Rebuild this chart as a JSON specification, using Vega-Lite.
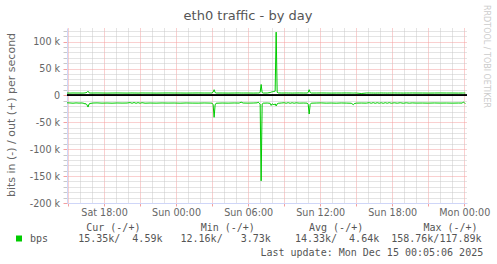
{
  "$schema": "https://vega.github.io/schema/vega-lite/v6.json",
  "width": 400,
  "height": 175,
  "autosize": {"type": "none"},
  "padding": {"left": 67, "top": 28, "right": 30, "bottom": 61},
  "background": "#ffffff",
  "title": {"text": "eth0 traffic - by day", "font": "DejaVu Sans", "fontSize": 13, "fontWeight": "normal", "color": "#555555", "anchor": "middle", "dx": -19, "offset": -28.3, "baseline": "alphabetic"},
  "data": {"values": [
    {"t": "2025-12-13T14:55", "in": -13600, "out": 4600},
    {"t": "2025-12-13T15:10", "in": -13900, "out": 4500},
    {"t": "2025-12-13T15:25", "in": -14300, "out": 4700},
    {"t": "2025-12-13T15:40", "in": -13800, "out": 4600},
    {"t": "2025-12-13T15:55", "in": -14100, "out": 4600},
    {"t": "2025-12-13T16:10", "in": -13900, "out": 4500},
    {"t": "2025-12-13T16:20", "in": -14600, "out": 4600},
    {"t": "2025-12-13T16:25", "in": -15800, "out": 4900},
    {"t": "2025-12-13T16:30", "in": -15200, "out": 5200},
    {"t": "2025-12-13T16:35", "in": -17500, "out": 6000},
    {"t": "2025-12-13T16:40", "in": -21500, "out": 8000},
    {"t": "2025-12-13T16:45", "in": -16000, "out": 5000},
    {"t": "2025-12-13T16:50", "in": -14800, "out": 4600},
    {"t": "2025-12-13T17:05", "in": -14000, "out": 4600},
    {"t": "2025-12-13T17:25", "in": -13800, "out": 4700},
    {"t": "2025-12-13T17:50", "in": -14200, "out": 4600},
    {"t": "2025-12-13T18:15", "in": -14000, "out": 4500},
    {"t": "2025-12-13T18:40", "in": -14300, "out": 4600},
    {"t": "2025-12-13T19:05", "in": -13900, "out": 4700},
    {"t": "2025-12-13T19:30", "in": -14100, "out": 4600},
    {"t": "2025-12-13T19:55", "in": -14000, "out": 4500},
    {"t": "2025-12-13T20:10", "in": -13200, "out": 4600},
    {"t": "2025-12-13T20:20", "in": -14400, "out": 4700},
    {"t": "2025-12-13T20:30", "in": -13100, "out": 4600},
    {"t": "2025-12-13T20:40", "in": -14500, "out": 4600},
    {"t": "2025-12-13T20:50", "in": -13300, "out": 4500},
    {"t": "2025-12-13T21:00", "in": -14400, "out": 4600},
    {"t": "2025-12-13T21:10", "in": -13400, "out": 4700},
    {"t": "2025-12-13T21:25", "in": -14300, "out": 4600},
    {"t": "2025-12-13T21:50", "in": -14000, "out": 4600},
    {"t": "2025-12-13T22:20", "in": -14200, "out": 4500},
    {"t": "2025-12-13T22:50", "in": -13900, "out": 4600},
    {"t": "2025-12-13T23:20", "in": -14100, "out": 4700},
    {"t": "2025-12-13T23:50", "in": -14000, "out": 4600},
    {"t": "2025-12-14T00:20", "in": -14300, "out": 4600},
    {"t": "2025-12-14T00:50", "in": -13900, "out": 4500},
    {"t": "2025-12-14T01:20", "in": -14100, "out": 4600},
    {"t": "2025-12-14T01:50", "in": -14200, "out": 4700},
    {"t": "2025-12-14T02:20", "in": -13900, "out": 4600},
    {"t": "2025-12-14T02:50", "in": -14100, "out": 4600},
    {"t": "2025-12-14T03:00", "in": -14300, "out": 4600},
    {"t": "2025-12-14T03:05", "in": -17000, "out": 6500},
    {"t": "2025-12-14T03:10", "in": -40500, "out": 10800},
    {"t": "2025-12-14T03:15", "in": -17500, "out": 5500},
    {"t": "2025-12-14T03:20", "in": -14400, "out": 4600},
    {"t": "2025-12-14T03:50", "in": -14000, "out": 4600},
    {"t": "2025-12-14T04:20", "in": -14200, "out": 4500},
    {"t": "2025-12-14T04:50", "in": -13900, "out": 4600},
    {"t": "2025-12-14T05:15", "in": -14100, "out": 4700},
    {"t": "2025-12-14T05:25", "in": -12400, "out": 4600},
    {"t": "2025-12-14T05:35", "in": -14000, "out": 4600},
    {"t": "2025-12-14T06:00", "in": -14200, "out": 4600},
    {"t": "2025-12-14T06:25", "in": -14000, "out": 4500},
    {"t": "2025-12-14T06:45", "in": -13700, "out": 4600},
    {"t": "2025-12-14T06:50", "in": -12300, "out": 4600},
    {"t": "2025-12-14T06:55", "in": -14200, "out": 4700},
    {"t": "2025-12-14T07:00", "in": -16000, "out": 6000},
    {"t": "2025-12-14T07:05", "in": -158760, "out": 20500},
    {"t": "2025-12-14T07:10", "in": -16000, "out": 5500},
    {"t": "2025-12-14T07:15", "in": -14300, "out": 4600},
    {"t": "2025-12-14T07:35", "in": -14000, "out": 4600},
    {"t": "2025-12-14T07:50", "in": -14500, "out": 5500},
    {"t": "2025-12-14T07:55", "in": -18500, "out": 6300},
    {"t": "2025-12-14T08:00", "in": -15500, "out": 6800},
    {"t": "2025-12-14T08:05", "in": -16500, "out": 7200},
    {"t": "2025-12-14T08:10", "in": -17200, "out": 7500},
    {"t": "2025-12-14T08:15", "in": -15500, "out": 8000},
    {"t": "2025-12-14T08:20", "in": -19500, "out": 117890},
    {"t": "2025-12-14T08:25", "in": -15500, "out": 6000},
    {"t": "2025-12-14T08:30", "in": -14500, "out": 4800},
    {"t": "2025-12-14T08:45", "in": -14000, "out": 4600},
    {"t": "2025-12-14T09:00", "in": -13500, "out": 4600},
    {"t": "2025-12-14T09:10", "in": -14400, "out": 4700},
    {"t": "2025-12-14T09:20", "in": -13400, "out": 4600},
    {"t": "2025-12-14T09:30", "in": -14500, "out": 4600},
    {"t": "2025-12-14T09:40", "in": -13500, "out": 4500},
    {"t": "2025-12-14T09:50", "in": -14400, "out": 4600},
    {"t": "2025-12-14T10:00", "in": -13600, "out": 4600},
    {"t": "2025-12-14T10:15", "in": -14200, "out": 4700},
    {"t": "2025-12-14T10:35", "in": -14000, "out": 4600},
    {"t": "2025-12-14T10:55", "in": -14200, "out": 4600},
    {"t": "2025-12-14T11:00", "in": -16500, "out": 5800},
    {"t": "2025-12-14T11:05", "in": -34500, "out": 10800},
    {"t": "2025-12-14T11:10", "in": -16500, "out": 5500},
    {"t": "2025-12-14T11:15", "in": -14300, "out": 4600},
    {"t": "2025-12-14T11:40", "in": -14000, "out": 4600},
    {"t": "2025-12-14T12:05", "in": -13800, "out": 4700},
    {"t": "2025-12-14T12:30", "in": -14200, "out": 4600},
    {"t": "2025-12-14T12:55", "in": -14000, "out": 4500},
    {"t": "2025-12-14T13:20", "in": -14300, "out": 4600},
    {"t": "2025-12-14T13:45", "in": -13900, "out": 4600},
    {"t": "2025-12-14T14:10", "in": -14100, "out": 4700},
    {"t": "2025-12-14T14:35", "in": -14400, "out": 4600},
    {"t": "2025-12-14T14:40", "in": -15500, "out": 4600},
    {"t": "2025-12-14T14:45", "in": -17200, "out": 4500},
    {"t": "2025-12-14T14:50", "in": -15200, "out": 4600},
    {"t": "2025-12-14T15:00", "in": -14200, "out": 4600},
    {"t": "2025-12-14T15:25", "in": -14000, "out": 3730},
    {"t": "2025-12-14T15:50", "in": -14200, "out": 4600},
    {"t": "2025-12-14T16:05", "in": -13400, "out": 4700},
    {"t": "2025-12-14T16:15", "in": -14400, "out": 4600},
    {"t": "2025-12-14T16:25", "in": -13300, "out": 4600},
    {"t": "2025-12-14T16:35", "in": -14500, "out": 4500},
    {"t": "2025-12-14T16:45", "in": -13400, "out": 4600},
    {"t": "2025-12-14T16:55", "in": -14400, "out": 4600},
    {"t": "2025-12-14T17:05", "in": -13500, "out": 4700},
    {"t": "2025-12-14T17:15", "in": -14500, "out": 4600},
    {"t": "2025-12-14T17:25", "in": -13400, "out": 4600},
    {"t": "2025-12-14T17:35", "in": -14400, "out": 4500},
    {"t": "2025-12-14T17:45", "in": -13300, "out": 4600},
    {"t": "2025-12-14T17:55", "in": -14400, "out": 4600},
    {"t": "2025-12-14T18:10", "in": -13600, "out": 4700},
    {"t": "2025-12-14T18:25", "in": -14300, "out": 4600},
    {"t": "2025-12-14T18:40", "in": -13500, "out": 4600},
    {"t": "2025-12-14T18:55", "in": -14400, "out": 4500},
    {"t": "2025-12-14T19:10", "in": -13600, "out": 4600},
    {"t": "2025-12-14T19:25", "in": -14300, "out": 4600},
    {"t": "2025-12-14T19:40", "in": -13800, "out": 4700},
    {"t": "2025-12-14T20:00", "in": -14100, "out": 4600},
    {"t": "2025-12-14T20:30", "in": -14000, "out": 4600},
    {"t": "2025-12-14T21:00", "in": -14200, "out": 4500},
    {"t": "2025-12-14T21:30", "in": -13900, "out": 4600},
    {"t": "2025-12-14T22:00", "in": -14100, "out": 4700},
    {"t": "2025-12-14T22:30", "in": -14000, "out": 4600},
    {"t": "2025-12-14T23:00", "in": -14200, "out": 4600},
    {"t": "2025-12-14T23:30", "in": -14000, "out": 4500},
    {"t": "2025-12-14T23:50", "in": -14100, "out": 4600},
    {"t": "2025-12-14T23:55", "in": -12160, "out": 4700},
    {"t": "2025-12-15T00:00", "in": -13200, "out": 4600},
    {"t": "2025-12-15T00:05", "in": -15350, "out": 4590}
  ]},
  "resolve": {"axis": {"y": "independent"}},
  "layer": [
    {
      "transform": [{"fold": ["in", "out"], "as": ["key", "value"]}],
      "mark": {"type": "line", "strokeWidth": 1},
      "encoding": {
        "x": {"field": "t", "type": "temporal",
          "scale": {"domain": [{"year": 2025, "month": 12, "date": 13, "hours": 14, "minutes": 55}, {"year": 2025, "month": 12, "date": 15, "hours": 0, "minutes": 13, "seconds": 30}], "nice": false},
          "axis": {"orient": "bottom", "grid": true,
            "gridColor": {"condition": {"test": "hours(datum.value) % 3 == 0", "value": "#f4a0a0"}, "value": "#c8c8c8"},
            "gridDash": [1, 1], "gridWidth": 1,
            "values": [
              {"year": 2025, "month": 12, "date": 13, "hours": 15}, {"year": 2025, "month": 12, "date": 13, "hours": 16}, {"year": 2025, "month": 12, "date": 13, "hours": 17},
              {"year": 2025, "month": 12, "date": 13, "hours": 18}, {"year": 2025, "month": 12, "date": 13, "hours": 19}, {"year": 2025, "month": 12, "date": 13, "hours": 20},
              {"year": 2025, "month": 12, "date": 13, "hours": 21}, {"year": 2025, "month": 12, "date": 13, "hours": 22}, {"year": 2025, "month": 12, "date": 13, "hours": 23},
              {"year": 2025, "month": 12, "date": 14, "hours": 0}, {"year": 2025, "month": 12, "date": 14, "hours": 1}, {"year": 2025, "month": 12, "date": 14, "hours": 2},
              {"year": 2025, "month": 12, "date": 14, "hours": 3}, {"year": 2025, "month": 12, "date": 14, "hours": 4}, {"year": 2025, "month": 12, "date": 14, "hours": 5},
              {"year": 2025, "month": 12, "date": 14, "hours": 6}, {"year": 2025, "month": 12, "date": 14, "hours": 7}, {"year": 2025, "month": 12, "date": 14, "hours": 8},
              {"year": 2025, "month": 12, "date": 14, "hours": 9}, {"year": 2025, "month": 12, "date": 14, "hours": 10}, {"year": 2025, "month": 12, "date": 14, "hours": 11},
              {"year": 2025, "month": 12, "date": 14, "hours": 12}, {"year": 2025, "month": 12, "date": 14, "hours": 13}, {"year": 2025, "month": 12, "date": 14, "hours": 14},
              {"year": 2025, "month": 12, "date": 14, "hours": 15}, {"year": 2025, "month": 12, "date": 14, "hours": 16}, {"year": 2025, "month": 12, "date": 14, "hours": 17},
              {"year": 2025, "month": 12, "date": 14, "hours": 18}, {"year": 2025, "month": 12, "date": 14, "hours": 19}, {"year": 2025, "month": 12, "date": 14, "hours": 20},
              {"year": 2025, "month": 12, "date": 14, "hours": 21}, {"year": 2025, "month": 12, "date": 14, "hours": 22}, {"year": 2025, "month": 12, "date": 14, "hours": 23},
              {"year": 2025, "month": 12, "date": 15, "hours": 0}
            ],
            "labelExpr": "hours(datum.value) % 6 == 0 ? timeFormat(datum.value, '%a %H:%M') : ''",
            "labelFont": "DejaVu Sans", "labelFontSize": 9.6, "labelColor": "#666666", "labelPadding": 1.5, "labelOverlap": false, "labelFlush": false, "labelBaseline": "top",
            "ticks": true, "tickSize": 3,
            "tickColor": {"condition": {"test": "hours(datum.value) % 3 == 0", "value": "#f4a0a0"}, "value": "transparent"},
            "domain": true, "domainColor": "#cfd6f8", "domainWidth": 1,
            "title": "Last update: Mon Dec 15 00:05:06 2025", "titleFont": "DejaVu Sans Mono", "titleFontSize": 10, "titleFontWeight": "normal", "titleColor": "#555555", "titleAlign": "right", "titleBaseline": "alphabetic", "titleX": 415.7, "titleY": 52}},
        "y": {"field": "value", "type": "quantitative",
          "scale": {"domain": [-200000, 125581], "nice": false, "zero": false},
          "axis": {"orient": "left", "grid": true,
            "gridColor": {"condition": {"test": "datum.value % 50000 == 0", "value": "#f4a0a0"}, "value": "#c8c8c8"},
            "gridDash": [1, 1], "gridWidth": 1,
            "values": [-200000, -190000, -180000, -170000, -160000, -150000, -140000, -130000, -120000, -110000, -100000, -90000, -80000, -70000, -60000, -50000, -40000, -30000, -20000, -10000, 0, 10000, 20000, 30000, 40000, 50000, 60000, 70000, 80000, 90000, 100000, 110000, 120000],
            "labelExpr": "datum.value % 50000 != 0 ? '' : datum.value == 0 ? '0' : (datum.value < 0 ? '-' : '') + (abs(datum.value) / 1000) + ' k'",
            "labelFont": "DejaVu Sans", "labelFontSize": 9.6, "labelColor": "#666666", "labelPadding": 3.4, "labelOverlap": false,
            "ticks": true, "tickSize": 4,
            "tickColor": {"condition": {"test": "datum.value % 50000 == 0", "value": "#f4a0a0"}, "value": "#c8c8c8"},
            "domain": true, "domainColor": "#cfd6f8", "domainWidth": 1,
            "title": "bits in (-) / out (+) per second", "titleFont": "DejaVu Sans", "titleFontSize": 11, "titleFontWeight": "normal", "titleColor": "#666666", "titleAngle": -90, "titleAlign": "center", "titleBaseline": "alphabetic", "titleX": -52.5, "titleY": 86.5}},
        "detail": {"field": "key"},
        "color": {"datum": "bps", "scale": {"range": ["#00cc00"]},
          "legend": {"orient": "none", "legendX": -53, "legendY": 194.5, "padding": 0,
            "title": "\u200d\u00a0\u00a0\u00a0\u00a0\u00a0\u00a0\u00a0\u00a0\u00a0\u00a0\u00a0\u00a0Cur (-/+)\u00a0\u00a0\u00a0\u00a0\u00a0\u00a0\u00a0\u00a0\u00a0\u00a0Min (-/+)\u00a0\u00a0\u00a0\u00a0\u00a0\u00a0\u00a0\u00a0\u00a0Avg (-/+)\u00a0\u00a0\u00a0\u00a0\u00a0\u00a0\u00a0\u00a0\u00a0\u00a0Max (-/+)",
            "titleFont": "DejaVu Sans Mono", "titleFontSize": 10, "titleFontWeight": "normal", "titleColor": "#555555", "titlePadding": 1, "titleLimit": 1000,
            "labelExpr": "'bps\u00a0\u00a0\u00a0\u00a0\u00a015.35k/\u00a0\u00a04.59k\u00a0\u00a0\u00a012.16k/\u00a0\u00a0\u00a03.73k\u00a0\u00a0\u00a0\u00a014.33k/\u00a0\u00a04.64k\u00a0\u00a0158.76k/117.89k'",
            "labelFont": "DejaVu Sans Mono", "labelFontSize": 10, "labelColor": "#555555", "labelLimit": 1000, "labelOffset": 6,
            "symbolType": "square", "symbolSize": 36, "symbolOffset": 0, "symbolFillColor": "#00cc00", "symbolStrokeColor": "#00cc00", "symbolStrokeWidth": 0}}
      }
    },
    {
      "mark": {"type": "rule", "color": "#000000", "strokeWidth": 1},
      "encoding": {"y": {"datum": 0, "type": "quantitative",
        "axis": {"orient": "right", "grid": false, "labels": false, "ticks": false, "domain": false,
          "title": "RRDTOOL / TOBI OETIKER", "titleFont": "DejaVu Sans", "titleFontSize": 8, "titleFontWeight": "normal", "titleColor": "#cccccc", "titleAngle": 90, "titleAlign": "left", "titleBaseline": "alphabetic", "titleX": 16.8, "titleY": -23.5}}}
    }
  ],
  "config": {"view": {"stroke": null}}
}
